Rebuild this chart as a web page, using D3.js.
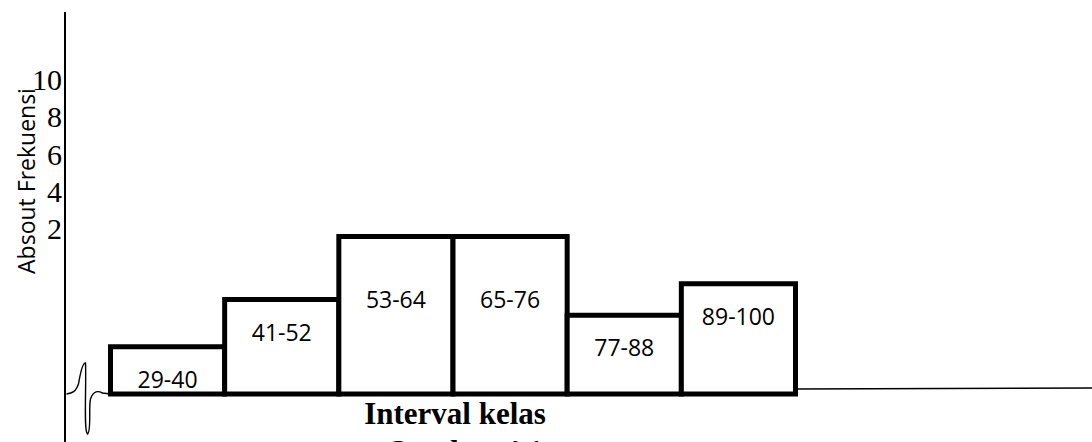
<!DOCTYPE html>
<html>
<head>
<meta charset="utf-8">
<script src="https://cdn.jsdelivr.net/npm/d3@7"></script>
<style>
  html, body { margin: 0; padding: 0; background: #fff; }
  svg { display: block; }
</style>
</head>
<body>
<svg id="chart" width="1092" height="442"></svg>
<script>
// ---- data ----
const categories = ["29-40", "41-52", "53-64", "65-76", "77-88", "89-100"];
const frequencies = [3, 6, 10, 10, 5, 7];
const tickLabels = [2, 4, 6, 8, 10];
const yTitle = "Absout Frekuensi";
const xTitle = "Interval kelas";
const caption = "Gambar 4.1";

// ---- layout ----
const W = 1092, H = 442;
const svg = d3.select("#chart");

const x = d3.scaleBand().domain(categories).range([110.5, 795.5]).padding(0);
const y = d3.scaleLinear().domain([0, 10]).range([394, 236.5]);
// scale used for the free-standing tick labels on the left
const yTick = d3.scaleLinear().domain([2, 10]).range([229, 80]);

// vertical axis line
svg.append("line")
  .attr("x1", 65).attr("x2", 65).attr("y1", 12).attr("y2", H)
  .attr("stroke", "#000").attr("stroke-width", 2);

// thin baseline extending to the right
svg.append("line")
  .attr("x1", x.range()[1]).attr("x2", W)
  .attr("y1", y(0) - 5).attr("y2", y(0) - 6)
  .attr("stroke", "#000").attr("stroke-width", 1.5);

// axis break squiggle
const bx = x.range()[0], by = y(0);
svg.append("path")
  .attr("d", `M${bx - 44},${by} C${bx - 38},${by - 1} ${bx - 35},${by - 2} ${bx - 32},${by - 10}
              C${bx - 30},${by - 22} ${bx - 28},${by - 31} ${bx - 25},${by - 31}
              C${bx - 24},${by - 10} ${bx - 27},${by + 38} ${bx - 23},${by + 40}
              C${bx - 19},${by + 38} ${bx - 22},${by + 12} ${bx - 20},${by + 5}
              C${bx - 17},${by - 4} ${bx - 12},${by - 3} ${bx - 8},${by - 1} L${bx},${by}`)
  .attr("fill", "none").attr("stroke", "#000").attr("stroke-width", 1.4);

// bars
const bars = svg.append("g");
bars.selectAll("rect").data(categories).join("rect")
  .attr("x", d => x(d))
  .attr("width", x.bandwidth())
  .attr("y", (d, i) => y(frequencies[i]))
  .attr("height", (d, i) => y(0) - y(frequencies[i]))
  .attr("fill", "#fff").attr("stroke", "#000").attr("stroke-width", 5);

// bar labels
bars.selectAll("text").data(categories).join("text")
  .attr("x", d => x(d) + x.bandwidth() / 2)
  .attr("y", (d, i) => Math.max(y(frequencies[i]) + 33, 300) + 8)
  .attr("text-anchor", "middle")
  .attr("font-family", "Open Sans, Noto Sans, sans-serif")
  .attr("font-size", 23)
  .attr("fill", "#000")
  .text(d => d);

// tick labels
svg.append("g").selectAll("text").data(tickLabels).join("text")
  .attr("x", 62)
  .attr("y", d => yTick(d) + 10)
  .attr("text-anchor", "end")
  .attr("font-family", "Liberation Serif, Times New Roman, serif")
  .attr("font-size", 30)
  .attr("fill", "#000")
  .text(d => d);

// y title
svg.append("text")
  .attr("transform", "translate(35,181) rotate(-90)")
  .attr("text-anchor", "middle")
  .attr("font-family", "Open Sans, Noto Sans, sans-serif")
  .attr("font-size", 23)
  .attr("fill", "#000")
  .text(yTitle);

// x title
svg.append("text")
  .attr("x", 455).attr("y", 424)
  .attr("text-anchor", "middle")
  .attr("font-family", "Liberation Serif, Times New Roman, serif")
  .attr("font-weight", "bold")
  .attr("font-size", 31)
  .attr("fill", "#000")
  .text(xTitle);

// caption (cut off at the bottom, as in the source)
svg.append("text")
  .attr("x", 464).attr("y", 462)
  .attr("text-anchor", "middle")
  .attr("font-family", "Liberation Serif, Times New Roman, serif")
  .attr("font-weight", "bold")
  .attr("font-size", 31)
  .attr("fill", "#000")
  .text(caption);
</script>
</body>
</html>
